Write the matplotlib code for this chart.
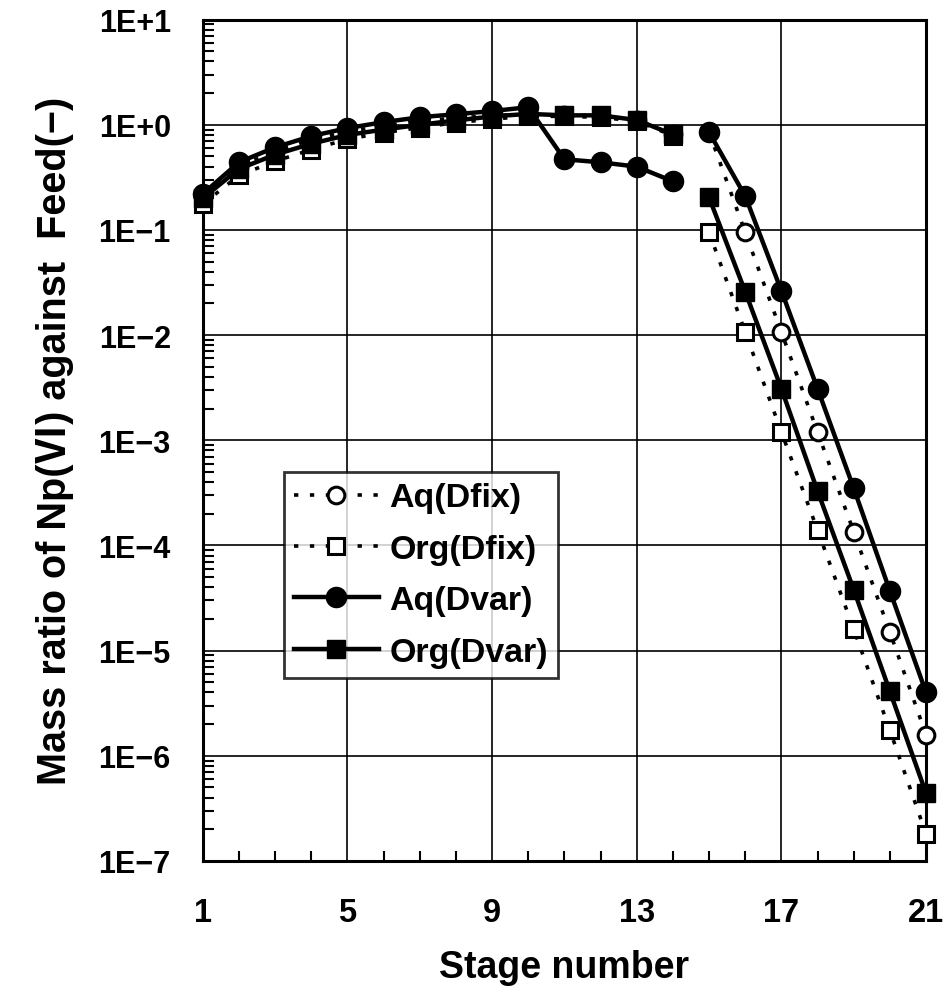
import matplotlib
matplotlib.use('Agg')
import matplotlib.pyplot as plt
from matplotlib.ticker import LogLocator, NullFormatter, FixedLocator

plt.rcParams['font.family'] = ['Liberation Sans', 'Noto Sans CJK JP', 'DejaVu Sans']
plt.rcParams['font.weight'] = 'bold'

stages = list(range(1, 22))
aq_dfix = [0.21, 0.40, 0.56, 0.72, 0.86, 0.98, 1.08, 1.16, 1.22, 1.27, 1.23, 1.22, 1.11, 0.81,
           0.85, 0.095, 0.0107, 1.2e-3, 1.35e-4, 1.5e-5, 1.58e-6]
org_dfix = [0.176, 0.33, 0.45, 0.58, 0.73, 0.84, 0.94, 1.05, 1.13, 1.21, 1.20, 1.18, 1.08, 0.79,
            0.095, 0.0107, 1.2e-3, 1.4e-4, 1.6e-5, 1.75e-6, 1.8e-7]
aq_dvar = [0.22, 0.44, 0.61, 0.78, 0.93, 1.06, 1.18, 1.26, 1.35, 1.47, 0.47, 0.44, 0.40, 0.29,
           0.85, 0.21, 0.0264, 0.0031, 3.5e-4, 3.7e-5, 4.0e-6]
org_dvar = [0.20, 0.38, 0.52, 0.66, 0.80, 0.90, 1.00, 1.10, 1.20, 1.27, 1.23, 1.23, 1.11, 0.81,
            0.204, 0.0259, 0.0031, 3.3e-4, 3.8e-5, 4.1e-6, 4.4e-7]
labels = ['Aq(Dfix)', 'Org(Dfix)', 'Aq(Dvar)', 'Org(Dvar)']
xtick_vals = [1, 5, 9, 13, 17, 21]
ytick_vals = [1e-7, 1e-6, 1e-5, 1e-4, 1e-3, 1e-2, 1e-1, 1e0, 1e1]
ytick_labels = ['1E\u22127', '1E\u22126', '1E\u22125', '1E\u22124', '1E\u22123',
                '1E\u22122', '1E\u22121', '1E+0', '1E+1']
split = 14  # feed stage break: no line between stage 14 and 15

fig = plt.figure(figsize=(9.46, 9.87), dpi=100)
ax = fig.add_axes([0.2143, 0.1267, 0.7646, 0.8524])
ax.set_yscale('log')

dot_style = dict(color='black', linestyle=(0, (1.2, 3.2)), linewidth=2.6,
                 markerfacecolor='white', markeredgecolor='black', markeredgewidth=2.2,
                 clip_on=False, zorder=3)
solid_style = dict(color='black', linestyle='-', linewidth=3.2,
                   markerfacecolor='black', markeredgecolor='black', clip_on=False, zorder=4)

handles = []
for ys, mk, ms, st in [(aq_dfix, 'o', 12, dot_style), (org_dfix, 's', 11, dot_style),
                       (aq_dvar, 'o', 14.5, solid_style), (org_dvar, 's', 13, solid_style)]:
    h, = ax.plot(stages[:split], ys[:split], marker=mk, markersize=ms, **st)
    ax.plot(stages[split:], ys[split:], marker=mk, markersize=ms, **st)
    handles.append(h)

ax.set_xlim(1, 21)
ax.set_ylim(1e-7, 1e1)
ax.set_xticks(xtick_vals)
ax.set_xticklabels([str(v) for v in xtick_vals])
ax.xaxis.set_minor_locator(FixedLocator(stages))
ax.set_yticks(ytick_vals)
ax.set_yticklabels(ytick_labels)
ax.yaxis.set_minor_locator(LogLocator(base=10, subs=range(2, 10), numticks=20))
ax.yaxis.set_minor_formatter(NullFormatter())

ax.grid(True, which='major', color='black', linewidth=1.2)
ax.tick_params(axis='both', which='both', direction='in', colors='black')
ax.tick_params(axis='x', which='major', length=0, pad=26, labelsize=23.5)
ax.tick_params(axis='x', which='minor', length=7, width=1.5)
ax.tick_params(axis='y', which='major', length=0, pad=23, labelsize=22)
ax.tick_params(axis='y', which='minor', length=8, width=1.5)
for sp in ax.spines.values():
    sp.set_linewidth(2.2)
    sp.set_color('black')

ax.set_xlabel('Stage number', fontsize=27, fontweight='bold', labelpad=15)
ax.set_ylabel('Mass ratio of Np(\u2165) against  Feed(\u2212)', fontsize=28.5,
              fontweight='bold', labelpad=18)

leg = ax.legend(handles, labels, loc='upper left', bbox_to_anchor=(0.112, 0.462),
                fontsize=24.5, frameon=True, fancybox=False, handlelength=2.5,
                handletextpad=0.3, labelspacing=0.6, borderpad=0.3, borderaxespad=0)
leg.get_frame().set_edgecolor('black')
leg.get_frame().set_linewidth(2.0)
leg.set_zorder(10)
for t in leg.get_texts():
    t.set_fontweight('bold')

fig.savefig('out.png', dpi=100)
